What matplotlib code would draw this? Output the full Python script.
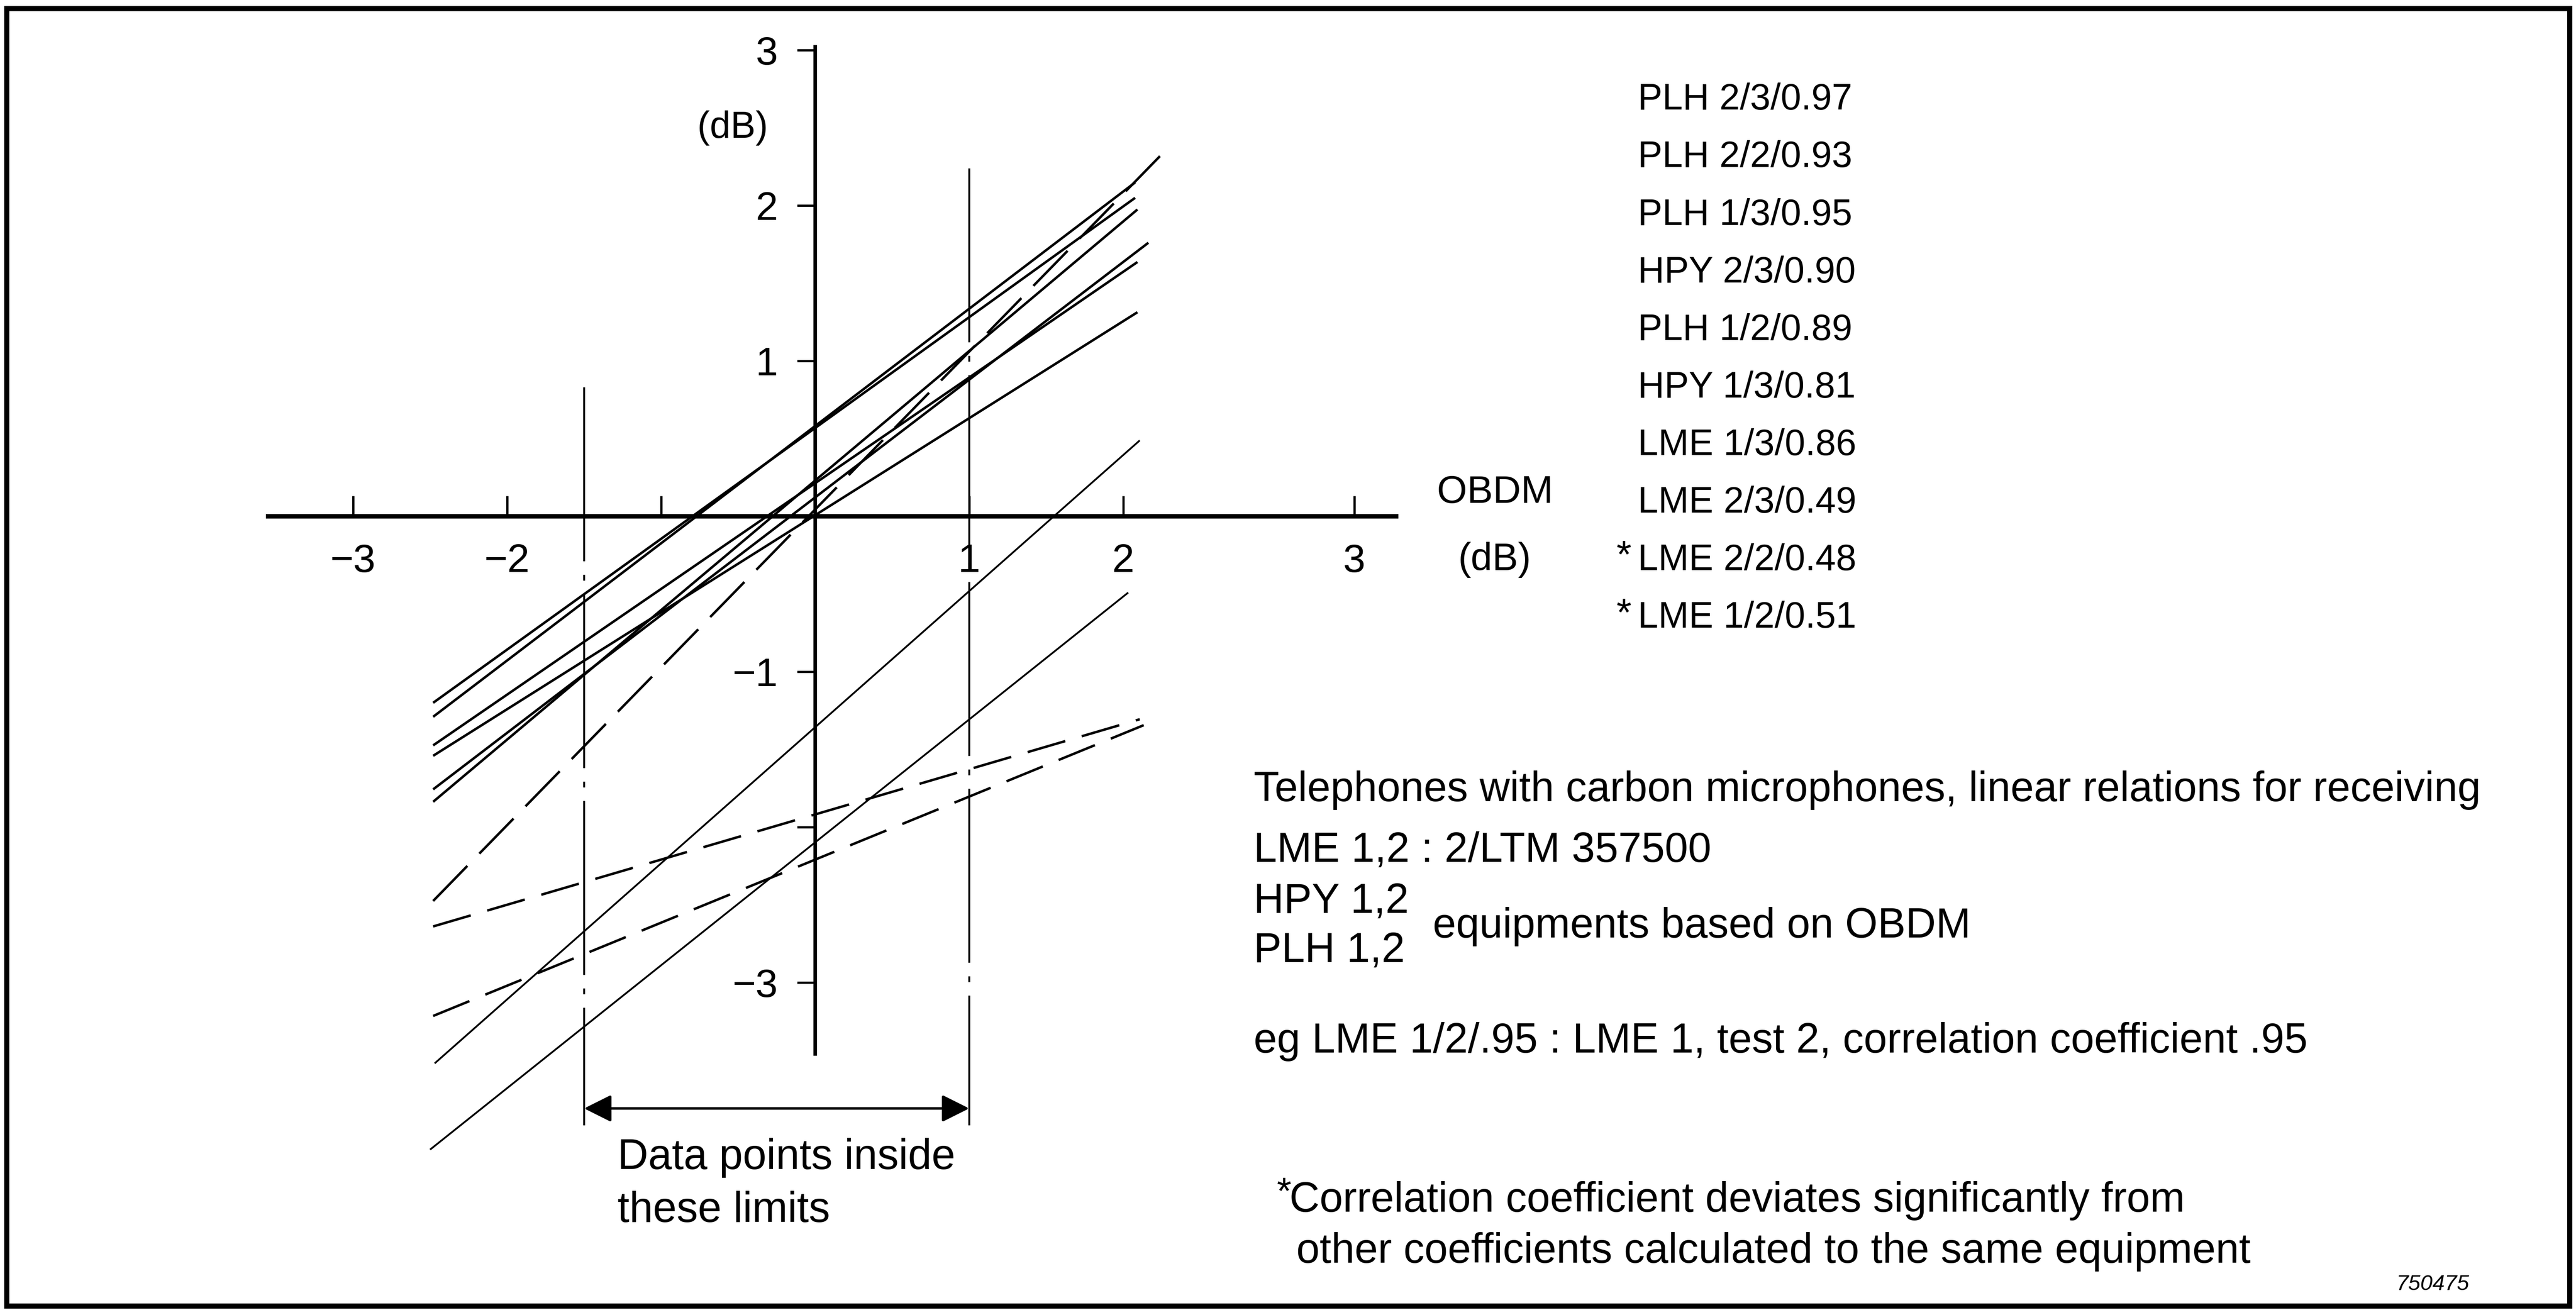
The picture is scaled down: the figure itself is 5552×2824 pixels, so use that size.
import matplotlib
matplotlib.use("Agg")
import matplotlib.pyplot as plt
from matplotlib.patches import Rectangle

plt.rcParams['font.family'] = ['Liberation Sans', 'DejaVu Sans']

# regression lines (OBDM dB -> equipment dB), end points
x_start = [-2.48, -2.48, -2.48, -2.48, -2.48, -2.48, -2.48, -2.48, -2.48, -2.47, -2.50]
y_start = [-1.29, -1.20, -1.474, -1.541, -1.757, -1.837, -2.475, -2.639, -3.215, -3.52, -4.075]
x_end = [2.077, 2.077, 2.092, 2.092, 2.163, 2.092, 2.243, 2.107, 2.133, 2.107, 2.032]
y_end = [2.148, 2.049, 1.636, 1.313, 1.760, 1.974, 2.322, -1.306, -1.344, 0.488, -0.491]
line_kind = ["solid"] * 6 + ["longdash", "shortdash", "shortdash", "thin", "thin"]

# limits of the data points
lim_lo, lim_hi = -1.5, 1.0

# ticks (the "3" on the x axis is drawn further out in the original)
xtick_pos = [-3, -2, -1, 1, 2, 3.5]
xtick_lab = ["\u22123", "\u22122", "", "1", "2", "3"]
ytick_pos = [3, 2, 1, -1, -2, -3]
ytick_lab = ["3", "2", "1", "\u22121", "", "\u22123"]

labels = ["PLH 2/3/0.97", "PLH 2/2/0.93", "PLH 1/3/0.95", "HPY 2/3/0.90",
          "PLH 1/2/0.89", "HPY 1/3/0.81", "LME 1/3/0.86", "LME 2/3/0.49",
          "LME 2/2/0.48", "LME 1/2/0.51"]
starred = [False] * 8 + [True, True]

styles = {
    "solid": dict(ls="-", lw=3.8),
    "thin": dict(ls="-", lw=2.8),
    "longdash": dict(ls=(0, (20, 7)), lw=3.8),
    "shortdash": dict(ls=(0, (16, 7)), lw=3.8),
}

fig = plt.figure(figsize=(55.52, 28.24), dpi=100)
ax = fig.add_axes([0, 0, 1, 1])
ax.set_xlim(-5.292, 11.431)
ax.set_ylim(-5.107, 3.322)

# axes crossing at the origin
for s in ["top", "right"]:
    ax.spines[s].set_visible(False)
ax.spines["left"].set_position("zero")
ax.spines["bottom"].set_position("zero")
ax.spines["left"].set_bounds(-3.46, 3.02)
ax.spines["bottom"].set_bounds(-3.55, 3.77)
ax.spines["left"].set_linewidth(5.5)
ax.spines["bottom"].set_linewidth(7)

ax.set_xticks(xtick_pos, xtick_lab)
ax.set_yticks(ytick_pos, ytick_lab)
ax.tick_params(axis="x", direction="in", length=32, width=3.5, pad=42, labelsize=62)
ax.tick_params(axis="y", direction="out", length=28, width=3.5, pad=30, labelsize=62)

for x0, y0, x1, y1, k in zip(x_start, y_start, x_end, y_end, line_kind):
    ax.plot([x0, x1], [y0, y1], color="black", solid_capstyle="butt",
            dash_capstyle="butt", **styles[k])

# data limits (dash-dot) and arrow
dashdot = (0, (90, 7, 3, 7))
ax.plot([lim_lo, lim_lo], [0.83, -3.92], color="black", lw=3, ls=dashdot)
ax.plot([lim_hi, lim_hi], [2.24, -3.92], color="black", lw=3, ls=dashdot)
ax.annotate("", xy=(lim_hi, -3.81), xytext=(lim_lo, -3.81),
            arrowprops=dict(arrowstyle="<|-|>", lw=4, color="black",
                            mutation_scale=90, shrinkA=0, shrinkB=0))
ax.text(-1.283, -4.128, "Data points inside", fontsize=66, va="center", ha="left")
ax.text(-1.283, -4.469, "these limits", fontsize=66, va="center", ha="left")

# axis titles
ax.text(-0.536, 2.499, "(dB)", fontsize=58, ha="center", va="center")
ax.text(4.413, 0.152, "OBDM", fontsize=60, ha="center", va="center")
ax.text(4.413, -0.281, "(dB)", fontsize=60, ha="center", va="center")

# list of equipment / test / correlation coefficient
for i, (lab, st) in enumerate(zip(labels, starred)):
    y = 2.678 - 0.3705 * i
    ax.text(5.341, y, lab, fontsize=57, ha="left", va="center")
    if st:
        ax.text(5.30, y + 0.02, "*", fontsize=60, ha="right", va="center")

# notes
note_kw = dict(fontsize=65, ha="left", va="center")
ax.text(2.846, -1.762, "Telephones with carbon microphones, linear relations for receiving", **note_kw)
ax.text(2.846, -2.153, "LME 1,2 : 2/LTM 357500", **note_kw)
ax.text(2.846, -2.481, "HPY 1,2", **note_kw)
ax.text(2.846, -2.798, "PLH 1,2", **note_kw)
ax.text(4.008, -2.639, "equipments based on OBDM", **note_kw)
ax.text(2.846, -3.379, "eg LME 1/2/.95 : LME 1, test 2, correlation coefficient .95", **note_kw)
ax.text(2.995, -4.36, "*", fontsize=58, ha="left", va="center")
ax.text(3.08, -4.404, "Correlation coefficient deviates significantly from", **note_kw)
ax.text(3.123, -4.732, "other coefficients calculated to the same equipment", **note_kw)
ax.text(10.738, -4.944, "750475", fontsize=34, style="italic", ha="right", va="center")

# frame round the whole drawing
fig.add_artist(Rectangle((0.0025, 0.0032), 0.995, 0.9904, transform=fig.transFigure,
                         fill=False, lw=8, color="black"))

fig.savefig("out.png", dpi=100)
